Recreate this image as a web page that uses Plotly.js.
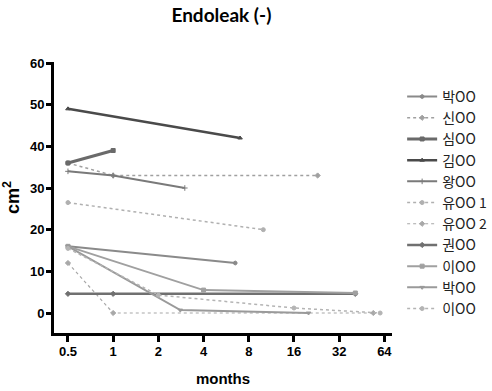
<!DOCTYPE html>
<html>
<head>
<meta charset="utf-8">
<script src="https://cdn.plot.ly/plotly-3.0.1.min.js"></script>
<style>html,body{margin:0;padding:0;background:#fff;}#chart{width:492px;height:391px;}</style>
</head>
<body>
<div id="chart"></div>
<script>
// Series names (legend order)
var names = ["박OO","신OO","심OO","김OO","왕OO","유OO 1","유OO 2","권OO","이OO","박OO","이OO"];
// months / cm2 per patient
var x1 = [0.5, 6.5];        var y1 = [16, 12];
var x2 = [0.5, 1, 23];      var y2 = [36, 33, 33];
var x3 = [0.5, 1];          var y3 = [36, 39];
var x4 = [0.5, 7];          var y4 = [49, 42];
var x5 = [0.5, 1, 3];       var y5 = [34, 33, 30];
var x6 = [0.5, 10];         var y6 = [26.5, 20];
var x7 = [0.5, 1, 54];      var y7 = [12, 0, 0];
var x8 = [0.5, 1, 41];      var y8 = [4.6, 4.6, 4.6];
var x9 = [0.5, 4, 41];      var y9 = [16, 5.5, 4.8];
var x10 = [0.5, 2.8, 20];   var y10 = [16, 0.7, 0];
var x11 = [0.5, 2, 16, 60]; var y11 = [15.5, 4.3, 1.2, 0];

var xTickVals = [0.5, 1, 2, 4, 8, 16, 32, 64];
var xTickText = ["0.5", "1", "2", "4", "8", "16", "32", "64"];
var yTickVals = [0, 10, 20, 30, 40, 50, 60];

var xs = [x1,x2,x3,x4,x5,x6,x7,x8,x9,x10,x11];
var ys = [y1,y2,y3,y4,y5,y6,y7,y8,y9,y10,y11];
var styles = [
  {c:"#8a8a8a", w:2,   d:"solid", m:"hexagon"},
  {c:"#a0a0a0", w:1.5, d:"dot",   m:"diamond"},
  {c:"#6a6a6a", w:3,   d:"solid", m:"square"},
  {c:"#4a4a4a", w:2.5, d:"solid", m:"triangle-up"},
  {c:"#7a7a7a", w:2,   d:"solid", m:"cross-thin"},
  {c:"#b0b0b0", w:1.5, d:"dot",   m:"circle"},
  {c:"#a8a8a8", w:1.2, d:"dot",   m:"diamond"},
  {c:"#707070", w:2.5, d:"solid", m:"diamond"},
  {c:"#a0a0a0", w:2,   d:"solid", m:"square"},
  {c:"#9a9a9a", w:2,   d:"solid", m:"triangle-down"},
  {c:"#b4b4b4", w:1.5, d:"dot",   m:"circle"}
];
var traces = [];
for (var i = 0; i < names.length; i++) {
  var s = styles[i];
  traces.push({
    type: "scatter", mode: "lines+markers", name: names[i],
    x: xs[i], y: ys[i],
    line: {color: s.c, width: s.w, dash: s.d},
    marker: {symbol: s.m, size: 4, color: s.c, line: {color: s.c, width: 1}}
  });
}
var axisFont = {family: "Liberation Sans, Arial, sans-serif", size: 13, color: "#000", weight: "bold"};
var layout = {
  width: 492, height: 391,
  margin: {l: 54, r: 100, t: 62, b: 58, autoexpand: false},
  paper_bgcolor: "#fff", plot_bgcolor: "#fff",
  title: {text: "<b>Endoleak (-)</b>", x: 0.45, xanchor: "center", y: 0.962, yanchor: "middle",
          font: {family: "Lato, sans-serif", size: 19, color: "#000"}},
  xaxis: {
    type: "log", range: [-0.394, 1.857],
    tickvals: xTickVals, ticktext: xTickText,
    showgrid: false, zeroline: false,
    showline: true, linecolor: "#000", linewidth: 3,
    ticks: "outside", ticklen: 6, tickwidth: 3, tickcolor: "#000",
    tickfont: axisFont, ticklabelstandoff: -2,
    title: {text: "<b>months</b>", font: {family: "Liberation Sans, Arial, sans-serif", size: 15, color: "#000"}, standoff: 16}
  },
  yaxis: {
    range: [-4.8, 60.24],
    tickvals: yTickVals,
    showgrid: false, zeroline: false,
    showline: true, linecolor: "#000", linewidth: 3,
    ticks: "outside", ticklen: 5, tickwidth: 3, tickcolor: "#000",
    tickfont: axisFont, ticklabelstandoff: -1,
    title: {text: "<b>cm<sup>2</sup></b>", font: {family: "Liberation Sans, Arial, sans-serif", size: 18, color: "#000"}, standoff: 8}
  },
  showlegend: true,
  legend: {
    x: 1.03, xanchor: "left", y: 0.93, yanchor: "top",
    font: {family: "Noto Sans CJK KR, sans-serif", size: 14, color: "#222"},
    bgcolor: "rgba(0,0,0,0)", itemwidth: 30, tracegroupgap: 0
  }
};
Plotly.newPlot("chart", traces, layout, {displayModeBar: false, staticPlot: true});
</script>
</body>
</html>
